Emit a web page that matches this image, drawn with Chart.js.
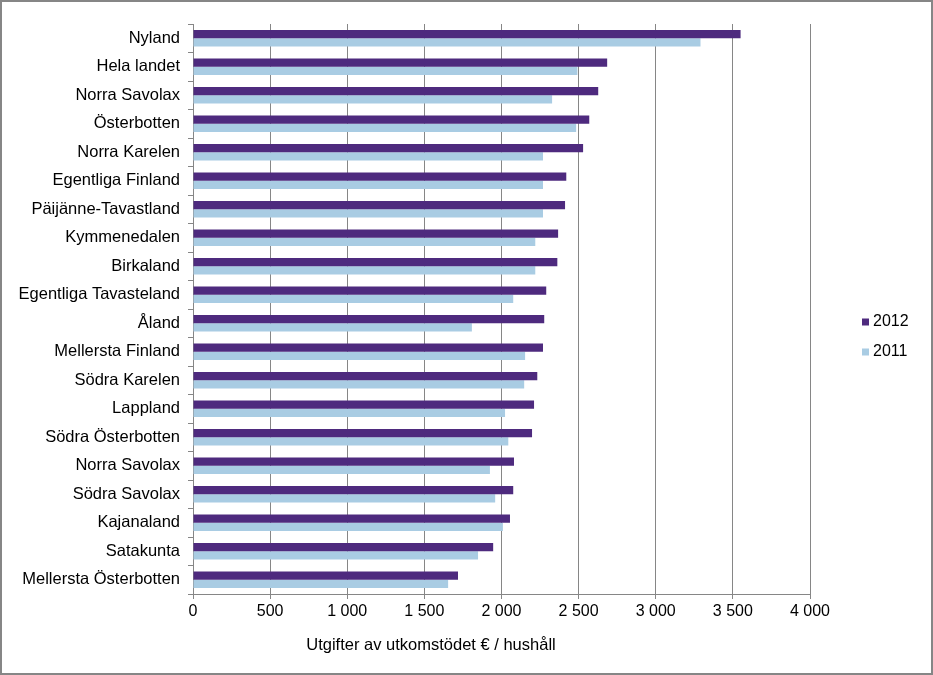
<!DOCTYPE html>
<html>
<head>
<meta charset="utf-8">
<script src="https://cdn.jsdelivr.net/npm/chart.js@4"></script>
<style>
  html, body { margin: 0; padding: 0; background: #fff; }
  canvas { display: block; }
</style>
</head>
<body>
<canvas id="chart" width="933" height="675"></canvas>
<script>
// Data
const regions = ['Nyland', 'Hela landet', 'Norra Savolax', 'Österbotten', 'Norra Karelen',
    'Egentliga Finland', 'Päijänne-Tavastland', 'Kymmenedalen', 'Birkaland', 'Egentliga Tavasteland',
    'Åland', 'Mellersta Finland', 'Södra Karelen', 'Lappland', 'Södra Österbotten',
    'Norra Savolax', 'Södra Savolax', 'Kajanaland', 'Satakunta', 'Mellersta Österbotten'];
const values2012 = [3550, 2685, 2627, 2569, 2529, 2420, 2412, 2367, 2362, 2290,
    2277, 2269, 2232, 2211, 2198, 2081, 2076, 2055, 1946, 1718];
const values2011 = [3290, 2492, 2328, 2484, 2269, 2269, 2269, 2219, 2219, 2076,
    1808, 2153, 2147, 2023, 2044, 1925, 1959, 2009, 1848, 1654];
const seriesNames = ['2012', '2011'];
const axisTitle = 'Utgifter av utkomstödet € / hushåll';

const FONT = '"Liberation Sans", Arial, sans-serif';
const GRID = '#868686';
const colors = ['#4E2A7E', '#A9CCE3'];

// Frame, axis title and legend
const extras = {
    id: 'extras',
    beforeDraw(chart) {
        const ctx = chart.ctx;
        ctx.save();
        ctx.fillStyle = '#fff';
        ctx.fillRect(0, 0, chart.width, chart.height);
        ctx.restore();
    },
    afterDraw(chart) {
        const ctx = chart.ctx;
        ctx.save();
        ctx.strokeStyle = GRID;
        ctx.lineWidth = 2;
        ctx.strokeRect(1, 1, chart.width - 2, chart.height - 2);

        ctx.fillStyle = '#000';
        ctx.font = '16.5px ' + FONT;
        ctx.textAlign = 'center';
        ctx.textBaseline = 'middle';
        ctx.fillText(axisTitle, 431, 645);

        // legend
        ctx.font = '16px ' + FONT;
        ctx.textAlign = 'left';
        chart.data.datasets.forEach((ds, i) => {
            const y = 322 + i * 30;
            ctx.fillStyle = ds.backgroundColor;
            ctx.fillRect(862, y - 3.5, 7, 7);
            ctx.fillStyle = '#000';
            ctx.fillText(ds.label, 873, y);
        });
        ctx.restore();
    }
};

new Chart(document.getElementById('chart'), {
    type: 'bar',
    data: {
        labels: regions,
        datasets: [
            { label: seriesNames[0], data: values2012, backgroundColor: colors[0] },
            { label: seriesNames[1], data: values2011, backgroundColor: colors[1] }
        ]
    },
    options: {
        indexAxis: 'y',
        responsive: false,
        animation: false,
        categoryPercentage: 0.58,
        barPercentage: 1.0,
        layout: { padding: { top: 24, right: 123, left: 0, bottom: 0 } },
        plugins: {
            legend: { display: false },
            tooltip: { enabled: false }
        },
        scales: {
            x: {
                min: 0,
                max: 4000,
                ticks: {
                    stepSize: 500,
                    color: '#000',
                    padding: 3,
                    font: { family: FONT, size: 16 },
                    callback: v => String(v).replace(/\B(?=(\d{3})+(?!\d))/g, ' ')
                },
                grid: { color: GRID, lineWidth: 1, tickLength: 5 },
                border: { display: true, color: GRID, width: 1 },
                afterFit: scale => { scale.height = 81; }
            },
            y: {
                ticks: {
                    color: '#000',
                    padding: 8,
                    font: { family: FONT, size: 16.5 }
                },
                grid: { drawOnChartArea: false, color: GRID, tickLength: 5 },
                border: { display: true, color: GRID, width: 1 },
                afterFit: scale => { scale.width = 193; }
            }
        }
    },
    plugins: [extras]
});
</script>
</body>
</html>
